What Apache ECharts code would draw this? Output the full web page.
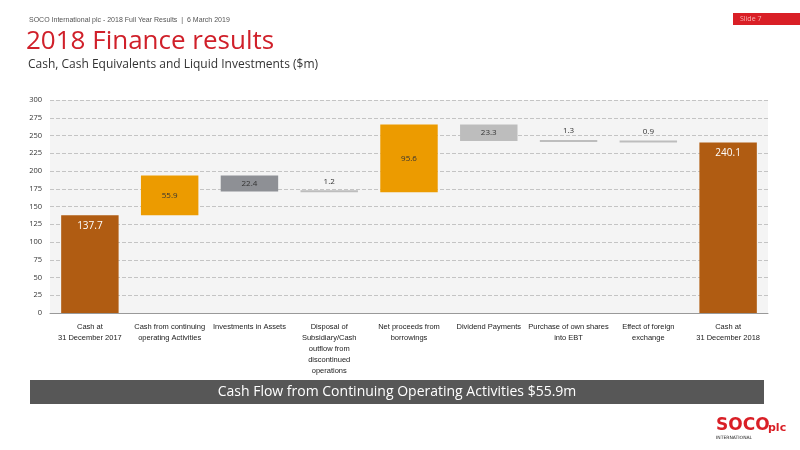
<!DOCTYPE html>
<html><head><meta charset="utf-8">
<script src="https://cdn.jsdelivr.net/npm/echarts@6/dist/echarts.min.js"></script>
<style>html,body{margin:0;padding:0;background:#fff}#c{width:800px;height:450px}</style>
</head><body><div id="c"></div>
<script>
const categories = ['Cash at\n31 December 2017','Cash from continuing\noperating Activities','Investments in Assets','Disposal of\nSubsidiary/Cash\noutflow from\ndiscontinued\noperations','Net proceeds from\nborrowings','Dividend Payments','Purchase of own shares\ninto EBT','Effect of foreign\nexchange','Cash at\n31 December 2018'];
const changes = [137.7, 55.9, -22.4, -1.2, 95.6, -23.3, -1.3, -0.9, 240.1];
const kinds = ['total','up','down','down','up','down','down','down','total'];
const yTicks = {min:0, max:300, interval:25};

const colors = {total:'#B05C12', up:'#EC9B00', down:'#BDBDBD'};
let running = 0;
const base = [], vals = [];
changes.forEach((v,i)=>{
  if(kinds[i]==='total'){ base.push(0); vals.push(v); running=v; }
  else if(v>=0){ base.push(running); vals.push(v); running+=v; }
  else { running+=v; base.push(running); vals.push(-v); }
});
const barData = vals.map((v,i)=>{
  let c = colors[kinds[i]];
  if(i===2) c = '#8E9095';
  const small = v<5;
  return {value:v, itemStyle:{color:c},
    label:{show:true, position: small?'top':(kinds[i]==='total'?'insideTop':'inside'),
      color: kinds[i]==='total'?'#fff':'#333', fontSize: kinds[i]==='total'?10:8, distance: small?5:6,
      formatter: v.toFixed(1)}};
});
const chart = echarts.init(document.getElementById('c'));
chart.setOption({
  backgroundColor:'#fff',
  animation:false,
  textStyle:{fontFamily:'Open Sans'},
  grid:{left:50,right:32,top:100,bottom:137,backgroundColor:'#f4f4f4',show:true,borderWidth:0},
  xAxis:{type:'category',data:categories,axisTick:{show:false},
    axisLine:{lineStyle:{color:'#999'}},
    axisLabel:{color:'#222',fontSize:7.5,interval:0,lineHeight:11,fontFamily:'Liberation Sans'}},
  yAxis:{type:'value',min:yTicks.min,max:yTicks.max,interval:yTicks.interval,
    axisLabel:{color:'#333',fontSize:7.5},axisLine:{show:false},axisTick:{show:false},
    splitLine:{lineStyle:{color:'#c4c4c4',type:'dashed',width:1}}},
  series:[
    {type:'bar',stack:'w',data:base,itemStyle:{color:'transparent'},barWidth:'72%',silent:true},
    {type:'bar',stack:'w',data:barData,barWidth:'72%',barMinHeight:2}
  ],
  graphic:[
    {type:'text',left:29,top:17,style:{text:'SOCO International plc - 2018 Full Year Results  |  6 March 2019',fill:'#555',fontSize:7,fontFamily:'Liberation Sans'}},
    {type:'text',left:26,top:29,style:{text:'2018 Finance results',fill:'#D0202A',fontSize:26,fontFamily:'Open Sans'}},
    {type:'text',left:28,top:59,style:{text:'Cash, Cash Equivalents and Liquid Investments ($m)',fill:'#333',fontSize:12,fontFamily:'Open Sans'}},
    {type:'rect',shape:{x:733,y:13,width:67,height:12},style:{fill:'#D91F26'}},
    {type:'text',left:740,top:15,style:{text:'Slide 7',fill:'#f8b0b0',fontSize:7,fontFamily:'Open Sans'}},
    {type:'rect',shape:{x:30,y:380,width:734,height:24},style:{fill:'#575757'}},
    {type:'text',x:397,y:392,style:{text:'Cash Flow from Continuing Operating Activities $55.9m',fill:'#fff',fontSize:14,fontFamily:'Open Sans',align:'center',verticalAlign:'middle'}},
    {type:'text',left:716,top:417,style:{text:'SOCO',fill:'#D91F26',fontSize:17,fontWeight:'bold',fontFamily:'DejaVu Sans'}},
    {type:'text',left:768,top:423,style:{text:'plc',fill:'#D91F26',fontSize:11,fontWeight:'bold',fontFamily:'DejaVu Sans'}},
    {type:'text',left:716,top:435,style:{text:'INTERNATIONAL',fill:'#222',fontSize:4.5,fontFamily:'DejaVu Sans'}}
  ]
});
</script></body></html>
